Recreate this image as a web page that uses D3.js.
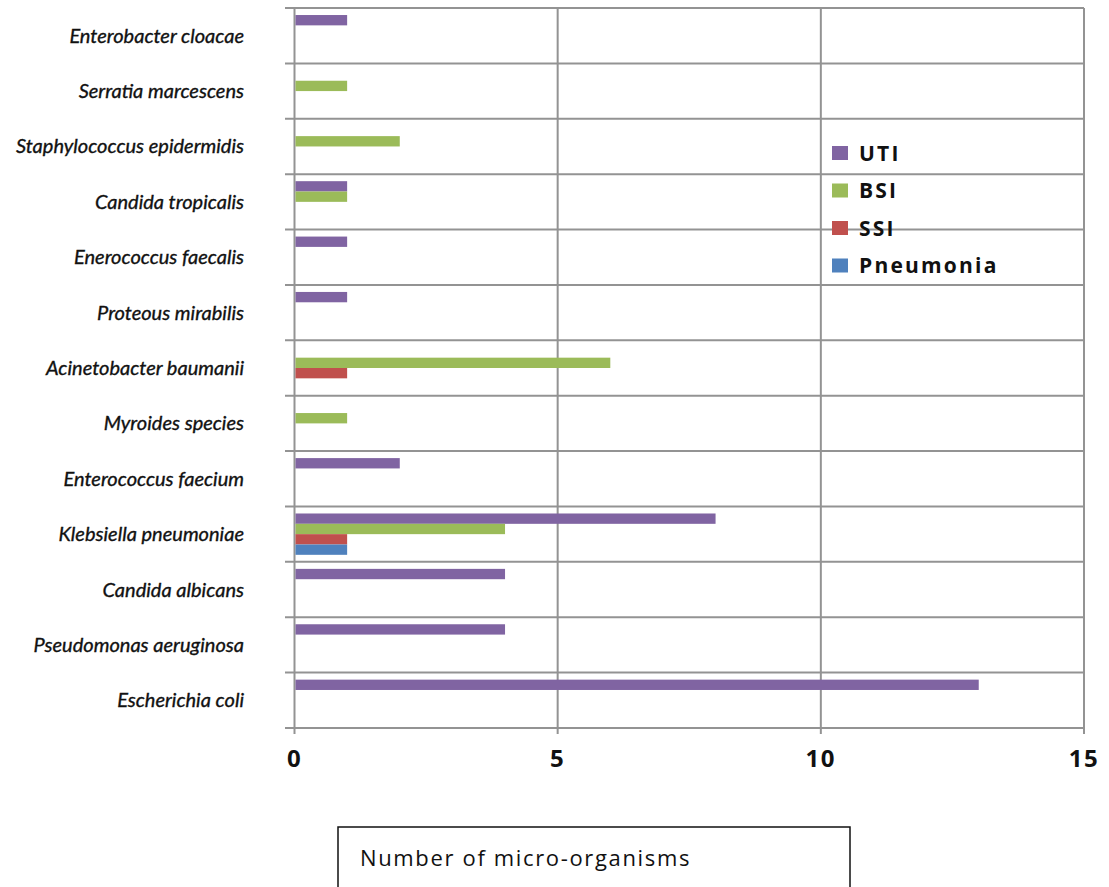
<!DOCTYPE html>
<html>
<head>
<meta charset="utf-8">
<script src="https://cdn.jsdelivr.net/npm/d3@7"></script>
<style>
  body { margin: 0; background: #fff; }
  svg { display: block; }
</style>
</head>
<body>
<svg id="chart" width="1109" height="887"></svg>
<script>
const width = 1109;
const height = 887;

// organisms, top to bottom as drawn
const organisms = [
    "Enterobacter cloacae",
    "Serratia marcescens",
    "Staphylococcus epidermidis",
    "Candida tropicalis",
    "Enerococcus faecalis",
    "Proteous mirabilis",
    "Acinetobacter baumanii",
    "Myroides species",
    "Enterococcus faecium",
    "Klebsiella pneumoniae",
    "Candida albicans",
    "Pseudomonas aeruginosa",
    "Escherichia coli"
];

const seriesNames = ["UTI", "BSI", "SSI", "Pneumonia"];
const seriesColors = ["#8064a2", "#9bbb59", "#c0504d", "#4f81bd"];

const uti       = [1, 0, 0, 1, 1, 1, 0, 0, 2, 8, 4, 4, 13];
const bsi       = [0, 1, 2, 1, 0, 0, 6, 1, 0, 4, 0, 0, 0];
const ssi       = [0, 0, 0, 0, 0, 0, 1, 0, 0, 1, 0, 0, 0];
const pneumonia = [0, 0, 0, 0, 0, 0, 0, 0, 0, 1, 0, 0, 0];

const xTicks = [0, 5, 10, 15];
const axisTitle = "Number of micro-organisms";

const seriesValues = [uti, bsi, ssi, pneumonia];

const svg = d3.select("#chart");

const x = d3.scaleLinear().domain([0, 15]).range([294.5, 1084]);

const y = d3.scaleBand()
    .domain(organisms)
    .range([8, 728])
    .padding(0);

const ySub = d3.scaleBand()
    .domain(seriesNames)
    .range([0, y.bandwidth()])
    .paddingInner(0)
    .paddingOuter(0.68);

const gridColor = "#939393";

// horizontal gridlines (with small ticks to the left of the axis)
const hLines = organisms.map(d => y(d)).concat([y.range()[1]]);
svg.append("g")
    .selectAll("line")
    .data(hLines)
    .join("line")
    .attr("x1", 285)
    .attr("x2", x(15))
    .attr("y1", d => d)
    .attr("y2", d => d)
    .attr("stroke", gridColor)
    .attr("stroke-width", 2);

// vertical gridlines (extend a little below as ticks)
svg.append("g")
    .selectAll("line")
    .data(xTicks)
    .join("line")
    .attr("x1", d => x(d))
    .attr("x2", d => x(d))
    .attr("y1", 8)
    .attr("y2", 734)
    .attr("stroke", gridColor)
    .attr("stroke-width", 2);

// bars
const rows = [];
organisms.forEach((org, i) => {
    seriesNames.forEach((s, j) => {
        rows.push({ org: org, series: s, value: seriesValues[j][i], color: seriesColors[j] });
    });
});

svg.append("g")
    .selectAll("rect")
    .data(rows.filter(d => d.value > 0))
    .join("rect")
    .attr("x", x(0) + 1)
    .attr("y", d => y(d.org) + ySub(d.series))
    .attr("width", d => x(d.value) - x(0) - 1)
    .attr("height", ySub.bandwidth())
    .attr("fill", d => d.color);

// category labels
svg.append("g")
    .selectAll("text")
    .data(organisms)
    .join("text")
    .attr("x", 244)
    .attr("y", d => y(d) + y.bandwidth() / 2 + 7)
    .attr("text-anchor", "end")
    .style("font-family", "Lato, 'Open Sans', sans-serif")
    .style("font-style", "italic")
    .style("font-size", "20px")
    .style("fill", "#111")
    .style("stroke", "#111")
    .style("stroke-width", "0.35px")
    .text(d => d);

// x tick labels
svg.append("g")
    .selectAll("text")
    .data(xTicks)
    .join("text")
    .attr("x", d => x(d))
    .attr("y", 767)
    .attr("text-anchor", "middle")
    .style("font-family", "'Open Sans', sans-serif")
    .style("font-weight", "bold")
    .style("font-size", "24px")
    .style("letter-spacing", "1.5px")
    .style("fill", "#111")
    .text(d => d);

// legend
const legend = svg.append("g")
    .selectAll("g")
    .data(seriesNames)
    .join("g")
    .attr("transform", (d, i) => `translate(832, ${153 + i * 37.5})`);

legend.append("rect")
    .attr("x", 0)
    .attr("y", -7)
    .attr("width", 16)
    .attr("height", 14)
    .attr("fill", (d, i) => seriesColors[i]);

legend.append("text")
    .attr("x", 27)
    .attr("y", 7.5)
    .style("font-family", "'Open Sans', sans-serif")
    .style("font-weight", "bold")
    .style("font-size", "21px")
    .style("letter-spacing", "2.2px")
    .style("fill", "#111")
    .text(d => d);

// axis title box
svg.append("rect")
    .attr("x", 338)
    .attr("y", 827)
    .attr("width", 512)
    .attr("height", 80)
    .attr("fill", "none")
    .attr("stroke", "#111")
    .attr("stroke-width", 1.5);

svg.append("text")
    .attr("x", 360)
    .attr("y", 866)
    .style("font-family", "'Open Sans', sans-serif")
    .style("font-size", "22px")
    .style("letter-spacing", "1.65px")
    .style("fill", "#111")
    .text(axisTitle);
</script>
</body>
</html>
